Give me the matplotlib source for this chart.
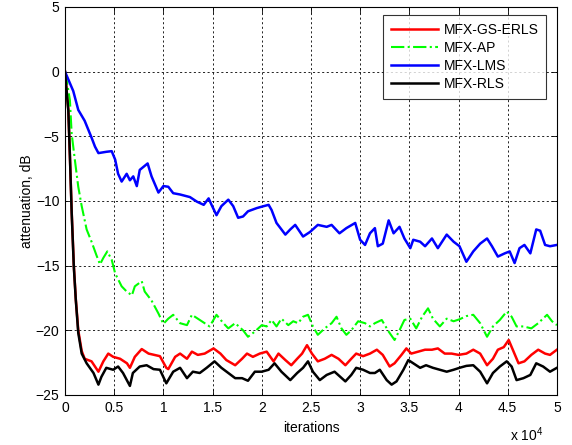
import numpy as np
import matplotlib
matplotlib.use('Agg')
import matplotlib.pyplot as plt

plt.rcParams['font.family'] = ['Liberation Sans', 'DejaVu Sans']
plt.rcParams['mathtext.fontset'] = 'custom'
plt.rcParams['mathtext.rm'] = 'Liberation Sans'

# iterations are in units of 1e4 (axis shows "x 10^4")
gs_erls_x = [0, 0.034, 0.05, 0.068, 0.09, 0.11, 0.135, 0.17, 0.2, 0.27, 0.34, 0.39, 0.44, 0.49, 0.56,
             0.63, 0.66, 0.71, 0.78, 0.85, 0.965, 1.03, 1.05, 1.12, 1.17, 1.24, 1.29, 1.35, 1.42, 1.51,
             1.58, 1.64, 1.73, 1.80, 1.85, 1.91, 1.98, 2.05, 2.12, 2.17, 2.24, 2.30, 2.36, 2.41, 2.46,
             2.51, 2.57, 2.64, 2.71, 2.78, 2.85, 2.91, 2.96, 3.03, 3.10, 3.17, 3.23, 3.30, 3.35, 3.42,
             3.47, 3.52, 3.59, 3.66, 3.73, 3.79, 3.86, 3.93, 4.0, 4.08, 4.15, 4.22, 4.29, 4.35, 4.40,
             4.46, 4.51, 4.56, 4.61, 4.67, 4.74, 4.81, 4.88, 4.93, 5.0]
gs_erls_y = [0, -2.95, -6.5, -10.8, -15.0, -17.6, -20.0, -21.6, -22.2, -22.4, -23.2, -22.4, -21.8, -22.05,
             -22.2, -22.55, -22.9, -22.05, -21.45, -21.8, -22.0, -22.9, -23.0, -22.05, -21.8, -22.2, -21.65,
             -21.9, -21.8, -21.4, -21.8, -22.3, -22.7, -22.2, -21.8, -22.05, -21.8, -21.65, -22.4, -21.8,
             -22.3, -22.7, -22.2, -21.8, -21.15, -21.8, -22.4, -22.2, -21.9, -22.2, -22.7, -22.2, -21.8,
             -22.0, -21.8, -21.5, -21.9, -22.8, -22.55, -21.9, -21.4, -21.8, -21.65, -21.5, -21.5, -21.4,
             -21.8, -21.8, -21.9, -21.8, -21.5, -21.8, -22.7, -22.2, -21.5, -21.3, -20.75, -21.65, -22.55,
             -22.4, -21.9, -21.5, -21.8, -21.9, -21.5]

ap_x = [0, 0.02, 0.05, 0.068, 0.10, 0.135, 0.17, 0.22, 0.27, 0.32, 0.356, 0.39, 0.43, 0.475, 0.51, 0.576,
        0.627, 0.68, 0.71, 0.78, 0.81, 0.88, 0.95, 1.0, 1.05, 1.10, 1.17, 1.24, 1.29, 1.37, 1.47, 1.54,
        1.61, 1.66, 1.73, 1.81, 1.86, 1.93, 2.0, 2.05, 2.10, 2.15, 2.20, 2.27, 2.32, 2.37, 2.42, 2.47,
        2.52, 2.57, 2.64, 2.71, 2.76, 2.81, 2.86, 2.91, 2.98, 3.05, 3.10, 3.15, 3.22, 3.29, 3.35, 3.40,
        3.45, 3.51, 3.57, 3.63, 3.69, 3.74, 3.81, 3.88, 3.95, 4.01, 4.08, 4.15, 4.22, 4.29, 4.35, 4.42,
        4.49, 4.54, 4.59, 4.66, 4.74, 4.81, 4.90, 4.95, 5.0]
ap_y = [0, -0.8, -2.2, -4.8, -6.8, -8.9, -10.4, -12.2, -13.15, -14.2, -14.9, -14.4, -13.9, -14.55, -15.6,
        -16.6, -17.0, -17.3, -16.6, -16.2, -17.0, -17.7, -18.7, -19.5, -19.1, -18.8, -19.45, -19.6, -18.8,
        -19.2, -19.7, -18.8, -19.45, -19.85, -19.45, -20.0, -20.5, -20.1, -19.6, -19.7, -19.2, -19.7,
        -19.1, -19.6, -19.3, -19.45, -18.95, -18.8, -19.7, -20.35, -19.85, -19.45, -18.95, -19.85, -20.35,
        -20.0, -19.3, -19.45, -19.7, -19.45, -19.2, -20.1, -20.75, -20.0, -19.2, -19.1, -19.85, -18.95,
        -18.3, -19.1, -19.7, -19.1, -19.3, -19.15, -18.9, -18.8, -19.45, -20.5, -19.7, -19.2, -18.55,
        -18.95, -19.7, -19.7, -19.85, -19.45, -18.8, -19.3, -19.6]

lms_x = [0, 0.084, 0.135, 0.2, 0.27, 0.305, 0.34, 0.42, 0.475, 0.51, 0.54, 0.576, 0.627, 0.66,
         0.694, 0.73, 0.76, 0.84, 0.88, 0.95, 1.0, 1.05, 1.10, 1.17, 1.27, 1.34, 1.41, 1.46, 1.49, 1.54,
         1.59, 1.66, 1.71, 1.76, 1.81, 1.86, 1.95, 2.02, 2.07, 2.10, 2.15, 2.24, 2.29, 2.34, 2.42, 2.49,
         2.57, 2.66, 2.71, 2.79, 2.86, 2.95, 3.0, 3.05, 3.10, 3.15, 3.18, 3.23, 3.29, 3.34, 3.40, 3.45,
         3.51, 3.54, 3.61, 3.66, 3.73, 3.79, 3.88, 3.95, 4.01, 4.08, 4.15, 4.22, 4.29, 4.34, 4.40, 4.47,
         4.52, 4.57, 4.62, 4.67, 4.73, 4.79, 4.83, 4.88, 4.93, 5.0]
lms_y = [0, -1.5, -2.96, -3.8, -5.1, -5.8, -6.3, -6.2, -6.15, -6.8, -7.9, -8.5, -7.9, -8.4, -8.1,
         -8.85, -7.6, -7.1, -8.1, -9.35, -8.85, -8.9, -9.4, -9.5, -9.7, -10.05, -10.3, -9.8, -10.3, -11.1,
         -10.4, -9.9, -10.4, -11.3, -11.2, -10.8, -10.55, -10.4, -10.3, -10.7, -11.7, -12.6, -12.2, -11.85,
         -12.75, -12.4, -11.85, -12.0, -11.85, -12.5, -12.1, -11.7, -13.0, -13.4, -12.5, -12.1, -13.5,
         -13.3, -11.5, -12.5, -12.0, -12.9, -13.65, -13.0, -13.15, -13.5, -12.9, -13.65, -12.6, -13.15,
         -13.5, -14.7, -13.9, -13.3, -12.9, -13.5, -14.3, -14.05, -13.9, -14.8, -13.65, -13.4, -14.05,
         -12.2, -12.3, -13.4, -13.5, -13.4]

rls_x = [0, 0.01, 0.034, 0.05, 0.068, 0.09, 0.11, 0.135, 0.17, 0.22, 0.29, 0.34, 0.37, 0.42, 0.49, 0.54,
         0.59, 0.66, 0.69, 0.76, 0.83, 0.90, 0.965, 1.03, 1.10, 1.17, 1.24, 1.30, 1.37, 1.44, 1.52, 1.59,
         1.66, 1.73, 1.80, 1.86, 1.93, 2.0, 2.07, 2.13, 2.20, 2.29, 2.36, 2.42, 2.47, 2.52, 2.59, 2.66,
         2.74, 2.85, 2.91, 2.96, 3.03, 3.10, 3.15, 3.20, 3.27, 3.32, 3.37, 3.44, 3.49, 3.54, 3.61, 3.67,
         3.74, 3.81, 3.88, 3.95, 4.01, 4.08, 4.15, 4.22, 4.29, 4.35, 4.42, 4.49, 4.54, 4.59, 4.66, 4.73,
         4.79, 4.86, 4.93, 5.0]
rls_y = [0, -0.9, -3.0, -6.5, -10.9, -15.1, -17.65, -20.2, -21.8, -22.55, -23.3, -24.2, -23.6, -22.9,
         -23.05, -22.8, -23.3, -24.3, -23.3, -22.8, -22.7, -23.0, -23.05, -24.1, -23.2, -22.9, -23.7, -23.2,
         -23.3, -22.9, -22.4, -22.9, -23.3, -23.7, -23.7, -23.9, -23.2, -23.2, -23.05, -22.55, -23.2,
         -23.85, -23.3, -22.9, -22.4, -23.2, -23.85, -23.45, -23.2, -23.95, -23.45, -22.9, -23.05, -23.3,
         -23.3, -23.05, -23.85, -24.2, -23.95, -23.05, -22.3, -22.55, -22.9, -22.7, -22.9, -23.05, -23.2,
         -23.05, -22.9, -22.75, -22.7, -23.2, -24.1, -23.3, -22.8, -22.4, -22.8, -23.85, -23.7, -23.45,
         -22.55, -22.8, -23.2, -22.9]

x_ticks = [0, 0.5, 1, 1.5, 2, 2.5, 3, 3.5, 4, 4.5, 5]
x_tick_labels = ['0', '0.5', '1', '1.5', '2', '2.5', '3', '3.5', '4', '4.5', '5']
y_ticks = [-25, -20, -15, -10, -5, 0, 5]

fig = plt.figure(figsize=(5.72, 4.45), dpi=100)
ax = fig.add_axes([0.1136, 0.1124, 0.860, 0.872])

ax.plot(gs_erls_x, gs_erls_y, color='#ff0000', lw=1.8, label='MFX-GS-ERLS')
ax.plot(ap_x, ap_y, color='#00ff00', lw=1.5, ls='-.', label='MFX-AP')
ax.plot(lms_x, lms_y, color='#0000ff', lw=1.8, label='MFX-LMS')
ax.plot(rls_x, rls_y, color='black', lw=1.8, label='MFX-RLS')

ax.set_xlim(0, 5)
ax.set_ylim(-25, 5)
ax.set_xticks(x_ticks)
ax.set_xticklabels(x_tick_labels)
ax.set_yticks(y_ticks)
ax.tick_params(direction='in', length=4, width=0.6, labelsize=10, top=True, right=True, pad=4)
ax.grid(True, color='black', lw=0.6, ls=(0, (2.5, 3)))
for s in ax.spines.values():
    s.set_linewidth(0.8)

ax.set_xlabel('iterations', fontsize=10, labelpad=5)
ax.set_ylabel('attenuation, dB', fontsize=10, labelpad=1)
fig.text(543 / 572, 1.5 / 445, 'x 10$^{4}$', fontsize=10, ha='right', va='bottom')

leg = ax.legend(loc='upper right', bbox_to_anchor=(0.978, 0.979), borderaxespad=0, fancybox=False,
                fontsize=10, handlelength=3.4, handletextpad=0.4, labelspacing=0.3, borderpad=0.55)
leg.get_frame().set_edgecolor('black')
leg.get_frame().set_linewidth(0.8)

fig.savefig('out.png', dpi=100)
